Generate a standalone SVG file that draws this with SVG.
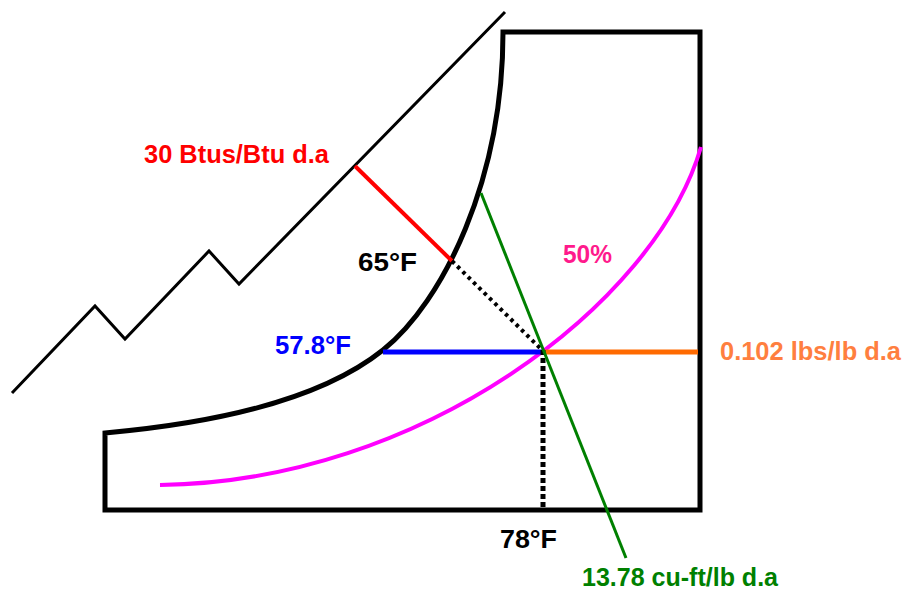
<svg xmlns="http://www.w3.org/2000/svg" width="903" height="590" viewBox="0 0 903 590">
  <style>
    .lbl { font-family: "Liberation Sans", Arial, sans-serif; font-weight: bold; font-size: 25px; }
    .ln { fill: none; stroke-linecap: butt; }
  </style>
  <rect x="0" y="0" width="903" height="590" fill="#ffffff"/>
  <g id="chart-outline">
    <path class="ln" d="M105,510 L105,433 C195,425 313,406 383,350 C443,302 503,180 503,32 L700,32 L700,510 Z" stroke="#000" stroke-width="5" stroke-linejoin="miter"/>
  </g>
  <g id="enthalpy-scale">
    <polyline class="ln" points="12,393 95,306 125,339 209,251 239,284 505,12" stroke="#000" stroke-width="3"/>
  </g>
  <g id="rh-curve">
    <path class="ln" d="M160,485 C420,482 655,305 701,147" stroke="#ff00ff" stroke-width="4" stroke-linecap="round"/>
  </g>
  <g id="connectors">
    <line class="ln" x1="355" y1="166" x2="452" y2="261" stroke="#ff0000" stroke-width="4"/>
    <line class="ln" x1="452" y1="261" x2="542" y2="350" stroke="#000" stroke-width="4" stroke-dasharray="3.5 4"/>
    <line class="ln" x1="383" y1="352" x2="542" y2="352" stroke="#0000ff" stroke-width="5"/>
    <line class="ln" x1="542" y1="352" x2="698" y2="352" stroke="#ff6a00" stroke-width="5"/>
    <line class="ln" x1="543" y1="350" x2="543" y2="509" stroke="#000" stroke-width="5" stroke-dasharray="5 3"/>
    <line class="ln" x1="481" y1="193" x2="626" y2="558" stroke="#008000" stroke-width="3"/>
  </g>
  <g id="labels">
    <text class="lbl" x="144" y="163" textLength="185" lengthAdjust="spacingAndGlyphs" fill="#ff0000">30 Btus/Btu d.a</text>
    <text class="lbl" x="358" y="271" textLength="59" lengthAdjust="spacingAndGlyphs" fill="#000000">65°F</text>
    <text class="lbl" x="275" y="354" textLength="76" lengthAdjust="spacingAndGlyphs" fill="#0000ff">57.8°F</text>
    <text class="lbl" x="563" y="263" textLength="49" lengthAdjust="spacingAndGlyphs" fill="#ff1a8c">50%</text>
    <text class="lbl" x="720" y="360" textLength="181" lengthAdjust="spacingAndGlyphs" fill="#ff7f3f">0.102 lbs/lb d.a</text>
    <text class="lbl" x="500" y="548" textLength="57" lengthAdjust="spacingAndGlyphs" fill="#000000">78°F</text>
    <text class="lbl" x="582" y="586" textLength="196" lengthAdjust="spacingAndGlyphs" fill="#008000">13.78 cu-ft/lb d.a</text>
  </g>
</svg>
